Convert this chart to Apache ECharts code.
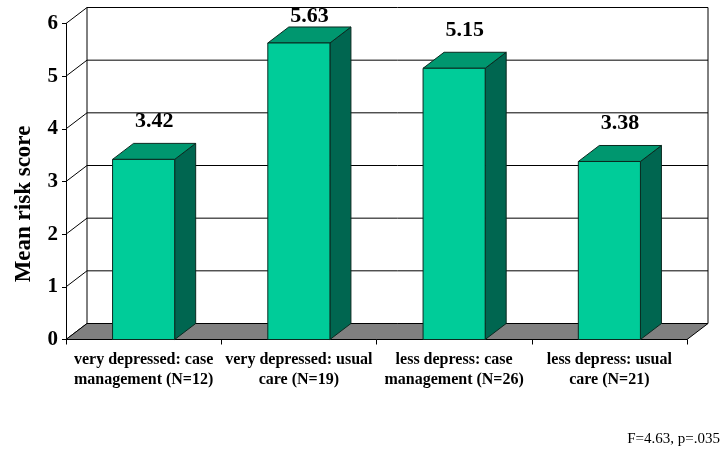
<!DOCTYPE html>
<html>
<head>
<meta charset="utf-8">
<style>
  html, body { margin: 0; padding: 0; background: #fff; }
  #chart { width: 722px; height: 450px; }
</style>
<script src="https://cdn.jsdelivr.net/npm/echarts@6/dist/echarts.min.js"></script>
</head>
<body>
<div id="chart"></div>
<script>
// Group labels and mean risk scores
const categories = [
  'very depressed: case\nmanagement (N=12)',
  'very depressed: usual\ncare (N=19)',
  'less depress: case\nmanagement (N=26)',
  'less depress: usual\ncare (N=21)'
];
const meanRisk = [3.42, 5.63, 5.15, 3.38];
const yTicks = [0, 1, 2, 3, 4, 5, 6];
const footnote = 'F=4.63, p=.035';
const yTitle = 'Mean risk score';

// Depth of the pseudo-3D box (screen offset of the back plane)
const DX = 21, DY = -16;
const SERIF = '"Liberation Serif", "Times New Roman", serif';
const FRONT = '#00CC99', TOP = '#00976F', SIDE = '#006650';

const chart = echarts.init(document.getElementById('chart'), null, { renderer: 'canvas' });

function renderWalls(params, api) {
  const cs = params.coordSys;
  const v = api.value(0);
  const y = api.coord([0, v])[1];
  const x0 = cs.x, x1 = cs.x + cs.width;
  const children = [];
  const lineStyle = { stroke: '#000', lineWidth: 1 };
  // back-wall gridline and side-wall diagonal
  children.push({ type: 'line', shape: { x1: x0 + DX, y1: y + DY, x2: x1 + DX, y2: y + DY }, style: lineStyle });
  children.push({ type: 'line', shape: { x1: x0, y1: y, x2: x0 + DX, y2: y + DY }, style: lineStyle });
  if (v === 0) {
    const yTop = api.coord([0, yTicks[yTicks.length - 1]])[1];
    children.push({ type: 'line', shape: { x1: x0 + DX, y1: yTop + DY, x2: x0 + DX, y2: y + DY }, style: lineStyle });
    children.push({ type: 'line', shape: { x1: x1 + DX, y1: yTop + DY, x2: x1 + DX, y2: y + DY }, style: lineStyle });
    // floor
    children.push({
      type: 'polygon', z2: 5,
      shape: { points: [[x0, y], [x1, y], [x1 + DX, y + DY], [x0 + DX, y + DY]] },
      style: { fill: '#808080', stroke: '#000', lineWidth: 1 }
    });
  }
  return { type: 'group', children };
}

function renderBar(params, api) {
  const idx = api.value(0);
  const val = api.value(1);
  const base = api.coord([idx, 0]);
  const top = api.coord([idx, val]);
  const band = api.size([1, 0])[0];
  const w = band * 0.4;
  const xl = base[0] - w / 2, xr = base[0] + w / 2;
  const ty = top[1], by = base[1];
  const edge = { stroke: '#0a2a20', lineWidth: 1 };
  const plotTop = api.coord([0, yTicks[yTicks.length - 1]])[1] + DY;
  const labelY = Math.max(ty + DY - 22, plotTop + 9);
  return {
    type: 'group',
    children: [
      { type: 'polygon', shape: { points: [[xr, ty], [xr + DX, ty + DY], [xr + DX, by + DY], [xr, by]] },
        style: Object.assign({ fill: SIDE }, edge) },
      { type: 'polygon', shape: { points: [[xl, ty], [xr, ty], [xr + DX, ty + DY], [xl + DX, ty + DY]] },
        style: Object.assign({ fill: TOP }, edge) },
      { type: 'rect', shape: { x: xl, y: ty, width: w, height: by - ty },
        style: Object.assign({ fill: FRONT }, edge) },
      { type: 'text', x: base[0] + DX / 2, y: labelY,
        style: { text: val.toFixed(2), fill: '#000', font: 'bold 22px ' + SERIF,
                 textAlign: 'center', textVerticalAlign: 'middle' } }
    ]
  };
}

chart.setOption({
  animation: false,
  backgroundColor: '#fff',
  grid: { left: 66, right: 35, top: 23.5, bottom: 110.5 },
  xAxis: {
    type: 'category',
    data: categories,
    boundaryGap: true,
    axisLine: { show: true, lineStyle: { color: '#000', width: 1 } },
    axisTick: { show: true, length: 5, interval: 0, lineStyle: { color: '#000' } },
    axisLabel: {
      interval: 0, margin: 10, color: '#000',
      fontFamily: SERIF, fontWeight: 'bold', fontSize: 16, lineHeight: 20
    },
    splitLine: { show: false }
  },
  yAxis: {
    type: 'value',
    min: 0, max: 6, interval: 1,
    axisLine: { show: true, lineStyle: { color: '#000', width: 1 } },
    axisTick: { show: true, length: 4, lineStyle: { color: '#000' } },
    axisLabel: { margin: 8, color: '#000', fontFamily: SERIF, fontWeight: 'bold', fontSize: 21 },
    splitLine: { show: false }
  },
  graphic: [
    { type: 'text', x: 24, y: 204, rotation: Math.PI / 2,
      style: { text: yTitle, font: 'bold 23px ' + SERIF, fill: '#000',
               textAlign: 'center', textVerticalAlign: 'middle' } },
    { type: 'text', right: 2, top: 432,
      style: { text: footnote, font: '15px ' + SERIF, fill: '#000' } }
  ],
  series: [
    {
      type: 'custom', name: 'walls', z: 1, silent: true,
      renderItem: renderWalls,
      data: yTicks.map(v => [v])
    },
    {
      type: 'custom', name: 'Mean risk score', z: 3,
      renderItem: renderBar,
      encode: { x: 0, y: 1 },
      data: meanRisk.map((v, i) => [i, v])
    }
  ]
});
</script>
</body>
</html>
